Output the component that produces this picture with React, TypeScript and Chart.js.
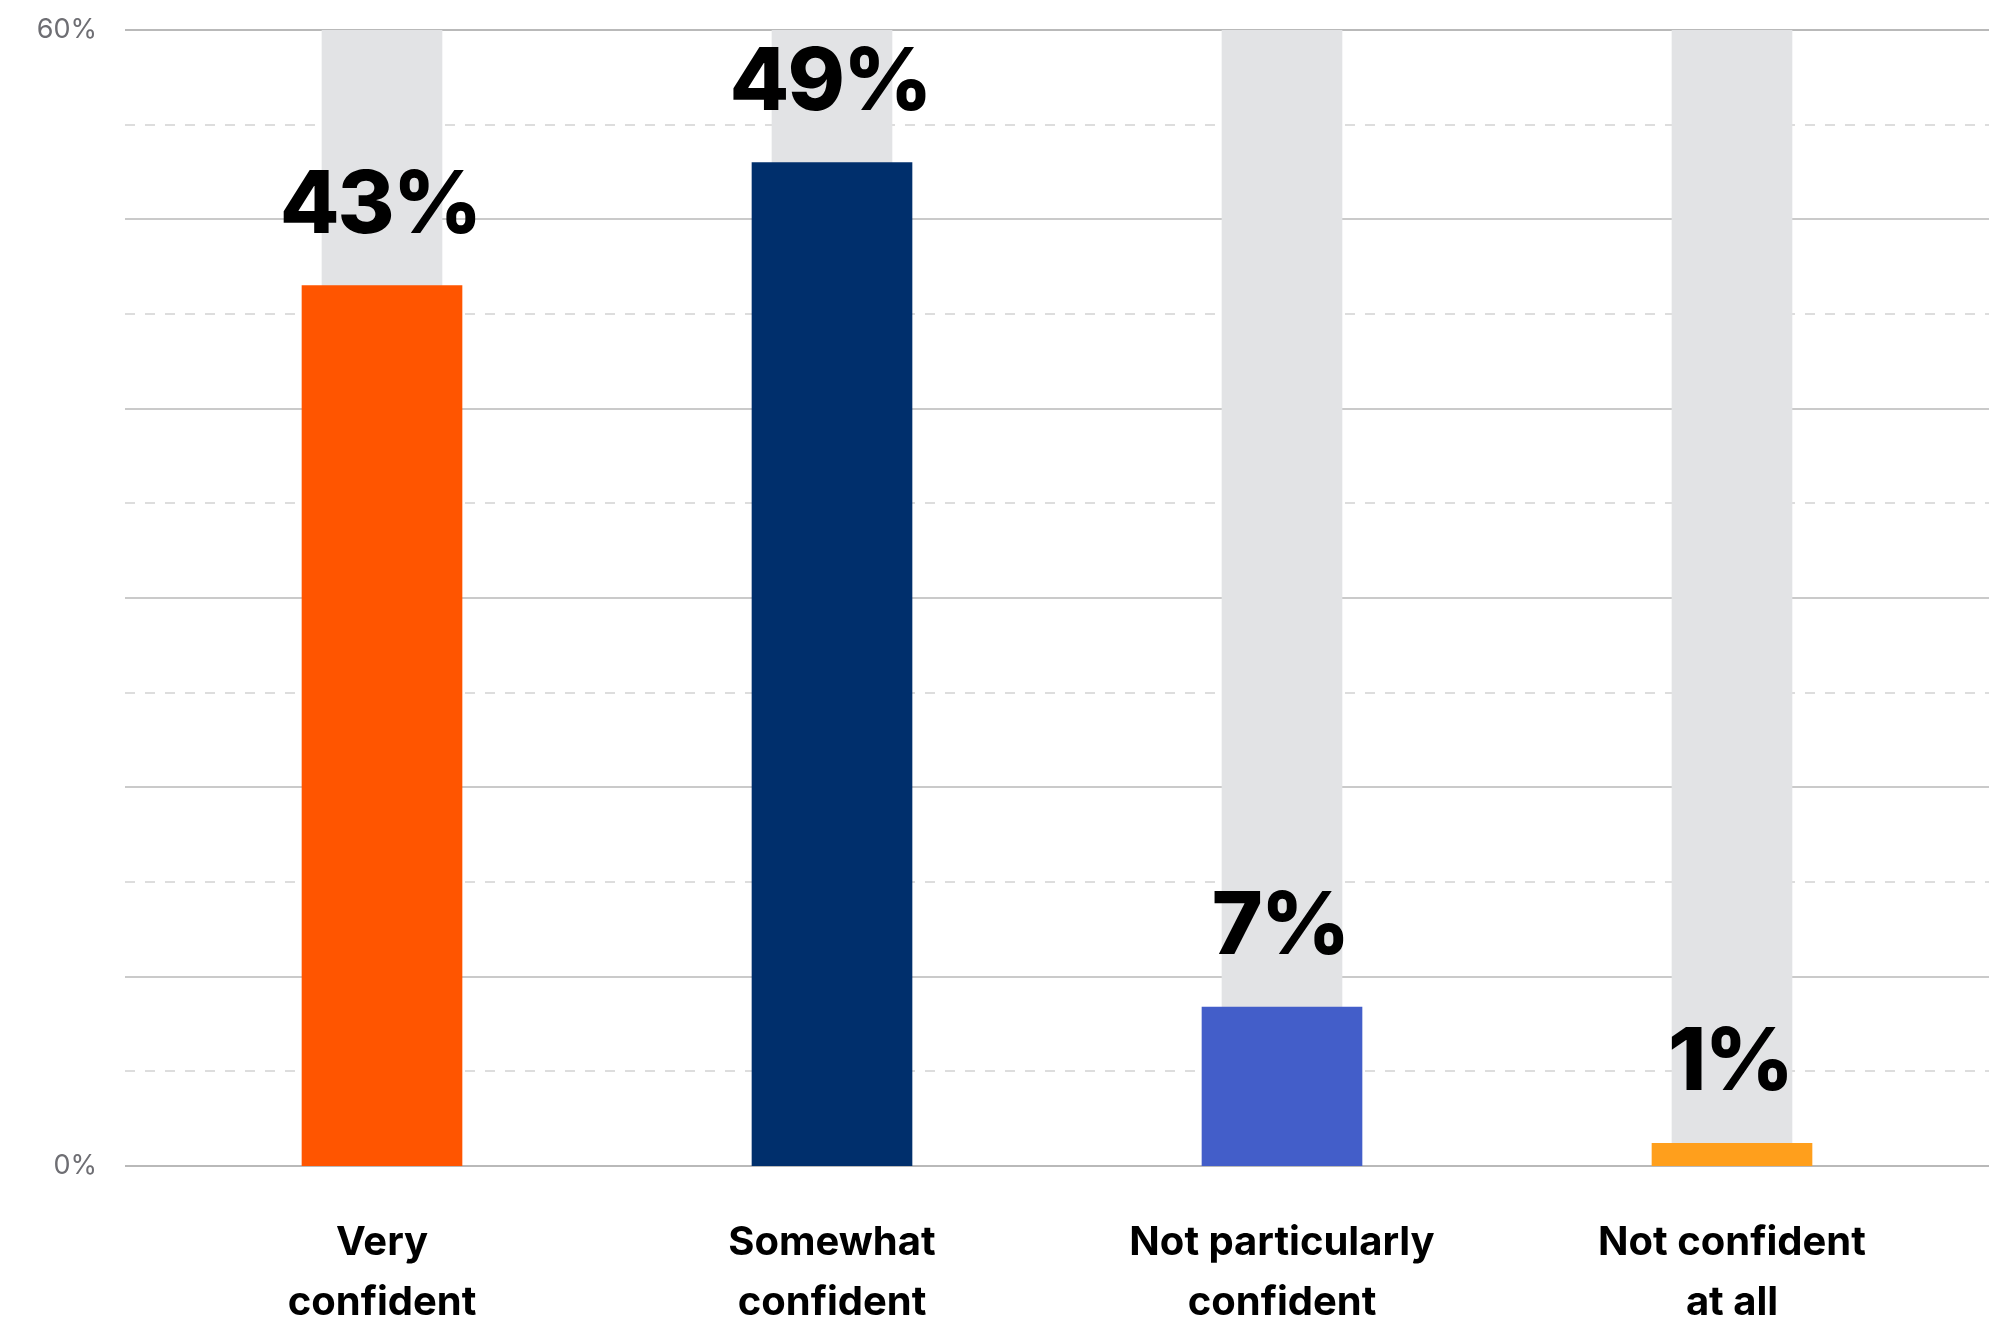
import { useEffect, useRef } from 'react';
import { Chart, registerables } from 'chart.js';

Chart.register(...registerables);

// ---- data ----
const categories: string[][] = [
  ['Very', 'confident'],
  ['Somewhat', 'confident'],
  ['Not particularly', 'confident'],
  ['Not confident', 'at all'],
];
// bar heights as drawn against the 0–60% axis
const barValues = [46.5, 53.0, 8.4, 1.2];
// printed value labels
const valueLabels = ['43%', '49%', '7%', '1%'];
// full-height background tracks
const trackValues = [60, 60, 60, 60];
const barColors = ['#FF5500', '#002F6C', '#435EC9', '#FF9F1C'];
const yTickLabels: Record<number, string> = { 0: '0%', 60: '60%' };

const GRID_EXTEND = 32;

const gridPlugin = {
  id: 'customGrid',
  beforeDatasetsDraw(chart: any) {
    const { ctx, chartArea, scales } = chart;
    const y = scales.y;
    ctx.save();
    y.ticks.forEach((t: any) => {
      const v = t.value;
      const solid = v % 10 === 0;
      const edge = v === 0 || v === 60;
      const py = Math.round(y.getPixelForValue(v));
      ctx.beginPath();
      ctx.setLineDash(solid ? [] : [10, 10]);
      ctx.strokeStyle = solid ? '#b9b9b9' : '#d2d2d2';
      ctx.lineWidth = edge ? 2 : solid ? 1.3 : 1.5;
      ctx.moveTo(chartArea.left - GRID_EXTEND, py);
      ctx.lineTo(chartArea.right + GRID_EXTEND, py);
      ctx.stroke();
    });
    ctx.restore();
  },
};

const valueLabelPlugin = {
  id: 'valueLabels',
  afterDatasetsDraw(chart: any) {
    const { ctx } = chart;
    const meta = chart.getDatasetMeta(0);
    ctx.save();
    ctx.font = '800 87px Inter';
    try {
      (ctx as any).letterSpacing = '-2px';
    } catch (e) {
      /* ignore */
    }
    ctx.fillStyle = '#000000';
    ctx.textAlign = 'center';
    ctx.textBaseline = 'alphabetic';
    meta.data.forEach((el: any, i: number) => {
      ctx.fillText(valueLabels[i], el.x - 2, el.y - 53);
    });
    ctx.restore();
  },
};

export default function App() {
  const canvasRef = useRef<HTMLCanvasElement | null>(null);

  useEffect(() => {
    if (!canvasRef.current) return;
    const chart = new Chart(canvasRef.current, {
      type: 'bar',
      data: {
        labels: categories,
        datasets: [
          {
            data: barValues,
            backgroundColor: barColors,
            barThickness: 160,
            grouped: false,
            order: 1,
          },
          {
            data: trackValues,
            backgroundColor: '#E2E3E5',
            barThickness: 120,
            grouped: false,
            order: 2,
          },
        ],
      },
      options: {
        animation: false,
        responsive: true,
        maintainAspectRatio: false,
        layout: { padding: { left: 0, right: 51, top: 30, bottom: 0 } },
        plugins: {
          legend: { display: false },
          tooltip: { enabled: false },
        },
        scales: {
          x: {
            type: 'category',
            offset: true,
            grid: { display: false, drawTicks: false },
            border: { display: false },
            afterFit: (scale: any) => {
              scale.height = 163;
            },
            ticks: {
              autoSkip: false,
              maxRotation: 0,
              minRotation: 0,
              padding: 47,
              color: '#000000',
              font: { family: 'Inter', size: 40, weight: 700, lineHeight: 60 / 40 },
            },
          },
          y: {
            min: 0,
            max: 60,
            grid: { display: false, drawTicks: false },
            border: { display: false },
            afterFit: (scale: any) => {
              scale.width = 157;
              scale.paddingTop = 0;
              scale.paddingBottom = 0;
            },
            ticks: {
              stepSize: 5,
              padding: 60,
              color: '#6e6e73',
              font: { family: 'Inter', size: 27, weight: 400 },
              callback: (value: any) => yTickLabels[Number(value)] ?? '',
            },
          },
        },
      },
      plugins: [gridPlugin, valueLabelPlugin],
    } as any);
    return () => chart.destroy();
  }, []);

  return (
    <div style={{ position: 'absolute', left: 0, top: 0, width: 2008, height: 1329, background: '#ffffff' }}>
      <canvas ref={canvasRef} style={{ display: 'block' }} />
    </div>
  );
}
